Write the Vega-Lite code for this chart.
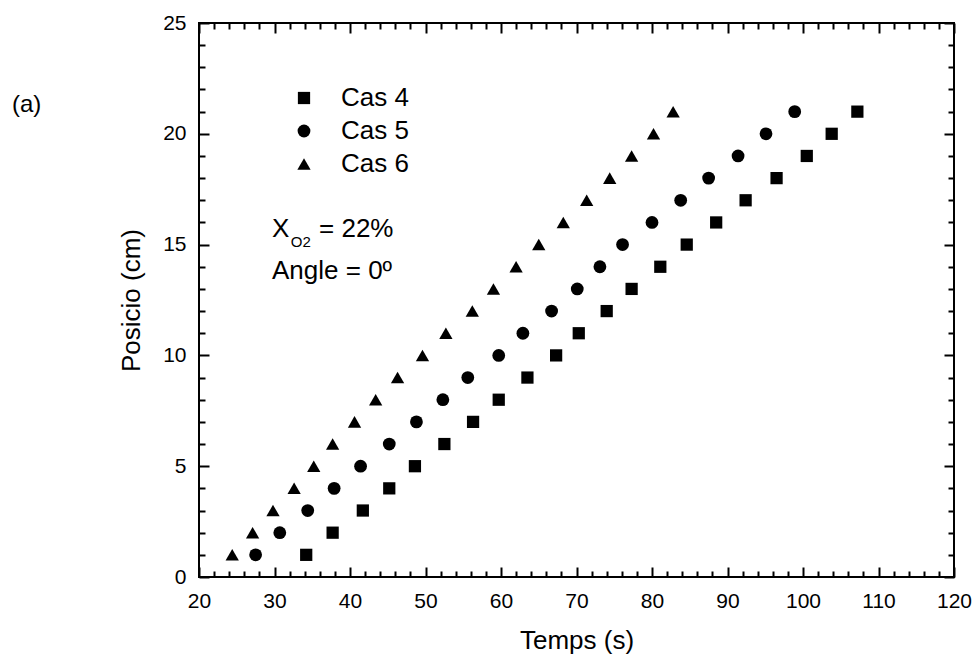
{
  "$schema": "https://vega.github.io/schema/vega-lite/v6.json",
  "autosize": "none",
  "width": 755,
  "height": 554,
  "padding": {"left": 199, "top": 23, "right": 19, "bottom": 80},
  "background": "white",
  "config": {
    "view": {"stroke": "black", "strokeWidth": 2},
    "font": "Liberation Sans"
  },
  "title": {"text": "(a)", "anchor": "start", "frame": "group", "orient": "top", "fontSize": 24, "fontWeight": "normal", "font": "Liberation Sans", "color": "black", "baseline": "alphabetic", "offset": 0, "dx": -187, "dy": 124},
  "datasets": {
    "pts": [
      {"caso": "Cas 4", "t": 34.2, "pos": 1}, {"caso": "Cas 4", "t": 37.7, "pos": 2}, {"caso": "Cas 4", "t": 41.7, "pos": 3}, {"caso": "Cas 4", "t": 45.2, "pos": 4}, {"caso": "Cas 4", "t": 48.6, "pos": 5}, {"caso": "Cas 4", "t": 52.5, "pos": 6}, {"caso": "Cas 4", "t": 56.3, "pos": 7}, {"caso": "Cas 4", "t": 59.7, "pos": 8}, {"caso": "Cas 4", "t": 63.5, "pos": 9}, {"caso": "Cas 4", "t": 67.3, "pos": 10}, {"caso": "Cas 4", "t": 70.3, "pos": 11}, {"caso": "Cas 4", "t": 74.0, "pos": 12}, {"caso": "Cas 4", "t": 77.3, "pos": 13}, {"caso": "Cas 4", "t": 81.1, "pos": 14}, {"caso": "Cas 4", "t": 84.6, "pos": 15}, {"caso": "Cas 4", "t": 88.5, "pos": 16}, {"caso": "Cas 4", "t": 92.4, "pos": 17}, {"caso": "Cas 4", "t": 96.5, "pos": 18}, {"caso": "Cas 4", "t": 100.5, "pos": 19}, {"caso": "Cas 4", "t": 103.8, "pos": 20}, {"caso": "Cas 4", "t": 107.2, "pos": 21},
      {"caso": "Cas 5", "t": 27.5, "pos": 1}, {"caso": "Cas 5", "t": 30.7, "pos": 2}, {"caso": "Cas 5", "t": 34.4, "pos": 3}, {"caso": "Cas 5", "t": 37.9, "pos": 4}, {"caso": "Cas 5", "t": 41.4, "pos": 5}, {"caso": "Cas 5", "t": 45.2, "pos": 6}, {"caso": "Cas 5", "t": 48.8, "pos": 7}, {"caso": "Cas 5", "t": 52.3, "pos": 8}, {"caso": "Cas 5", "t": 55.6, "pos": 9}, {"caso": "Cas 5", "t": 59.7, "pos": 10}, {"caso": "Cas 5", "t": 62.9, "pos": 11}, {"caso": "Cas 5", "t": 66.7, "pos": 12}, {"caso": "Cas 5", "t": 70.1, "pos": 13}, {"caso": "Cas 5", "t": 73.1, "pos": 14}, {"caso": "Cas 5", "t": 76.1, "pos": 15}, {"caso": "Cas 5", "t": 80.0, "pos": 16}, {"caso": "Cas 5", "t": 83.8, "pos": 17}, {"caso": "Cas 5", "t": 87.5, "pos": 18}, {"caso": "Cas 5", "t": 91.4, "pos": 19}, {"caso": "Cas 5", "t": 95.1, "pos": 20}, {"caso": "Cas 5", "t": 98.9, "pos": 21},
      {"caso": "Cas 6", "t": 24.4, "pos": 1}, {"caso": "Cas 6", "t": 27.1, "pos": 2}, {"caso": "Cas 6", "t": 29.8, "pos": 3}, {"caso": "Cas 6", "t": 32.6, "pos": 4}, {"caso": "Cas 6", "t": 35.2, "pos": 5}, {"caso": "Cas 6", "t": 37.7, "pos": 6}, {"caso": "Cas 6", "t": 40.6, "pos": 7}, {"caso": "Cas 6", "t": 43.4, "pos": 8}, {"caso": "Cas 6", "t": 46.3, "pos": 9}, {"caso": "Cas 6", "t": 49.6, "pos": 10}, {"caso": "Cas 6", "t": 52.7, "pos": 11}, {"caso": "Cas 6", "t": 56.2, "pos": 12}, {"caso": "Cas 6", "t": 59.0, "pos": 13}, {"caso": "Cas 6", "t": 62.0, "pos": 14}, {"caso": "Cas 6", "t": 65.0, "pos": 15}, {"caso": "Cas 6", "t": 68.25, "pos": 16}, {"caso": "Cas 6", "t": 71.35, "pos": 17}, {"caso": "Cas 6", "t": 74.4, "pos": 18}, {"caso": "Cas 6", "t": 77.3, "pos": 19}, {"caso": "Cas 6", "t": 80.2, "pos": 20}, {"caso": "Cas 6", "t": 82.8, "pos": 21}
    ],
    "notes": [
      {"label": "X", "t": 29.67, "pos": 15.34},
      {"label": "= 22%", "t": 35.9, "pos": 15.34},
      {"label": "Angle = 0º", "t": 29.67, "pos": 13.45}
    ],
    "subs": [
      {"label": "O2", "t": 32.15, "pos": 14.89}
    ]
  },
  "resolve": {"axis": {"x": "independent", "y": "independent"}},
  "layer": [
    {
      "data": {"name": "pts"},
      "mark": {"type": "point", "filled": true, "opacity": 1, "color": "black"},
      "encoding": {
        "x": {"field": "t", "type": "quantitative", "scale": {"domain": [20, 120], "nice": false, "zero": false},
              "axis": {"orient": "bottom", "values": [20, 30, 40, 50, 60, 70, 80, 90, 100, 110, 120], "grid": false, "domain": false, "ticks": true, "tickColor": "black", "tickWidth": 2, "tickSize": 10, "offset": -10, "labelPadding": 13, "labelFont": "Liberation Sans", "labelFontSize": 21, "labelColor": "black", "labelFlush": false, "labelOverlap": false, "title": "Temps (s)", "titleFont": "Liberation Sans", "titleFontSize": 26, "titleFontWeight": "normal", "titleColor": "black", "titlePadding": 16}},
        "y": {"field": "pos", "type": "quantitative", "scale": {"domain": [0, 25], "nice": false, "zero": false},
              "axis": {"orient": "left", "values": [0, 5, 10, 15, 20, 25], "grid": false, "domain": false, "ticks": true, "tickColor": "black", "tickWidth": 2, "tickSize": 10, "offset": -10, "labelPadding": 13, "labelFont": "Liberation Sans", "labelFontSize": 21, "labelColor": "black", "labelFlush": false, "labelOverlap": false, "title": "Posicio (cm)", "titleFont": "Liberation Sans", "titleFontSize": 26, "titleFontWeight": "normal", "titleColor": "black", "titlePadding": 18}},
        "shape": {"field": "caso", "type": "nominal", "scale": {"domain": ["Cas 4", "Cas 5", "Cas 6"], "range": ["square", "circle", "triangle-up"]},
                  "legend": {"title": null, "orient": "none", "legendX": 92, "legendY": 62, "labelFont": "Liberation Sans", "labelFontSize": 26, "labelColor": "black", "labelOffset": 24, "symbolFillColor": "black", "symbolStrokeColor": "black", "symbolStrokeWidth": 0, "rowPadding": 7, "padding": 0}},
        "size": {"field": "caso", "type": "nominal", "scale": {"domain": ["Cas 4", "Cas 5", "Cas 6"], "range": [150, 177, 280]},
                  "legend": {"title": null, "orient": "none", "legendX": 92, "legendY": 62, "labelFont": "Liberation Sans", "labelFontSize": 26, "labelColor": "black", "labelOffset": 24, "symbolFillColor": "black", "symbolStrokeColor": "black", "symbolStrokeWidth": 0, "rowPadding": 7, "padding": 0}}
      }
    },
    {
      "data": {"name": "pts"},
      "mark": {"type": "point", "opacity": 0},
      "encoding": {
        "x": {"field": "t", "type": "quantitative", "axis": {"orient": "top", "values": [20, 30, 40, 50, 60, 70, 80, 90, 100, 110, 120], "grid": false, "domain": false, "ticks": true, "tickColor": "black", "tickWidth": 2, "tickSize": -10, "labels": false, "title": null}},
        "y": {"field": "pos", "type": "quantitative", "axis": {"orient": "right", "values": [0, 5, 10, 15, 20, 25], "grid": false, "domain": false, "ticks": true, "tickColor": "black", "tickWidth": 2, "tickSize": -10, "labels": false, "title": null}}
      }
    },
    {
      "data": {"name": "pts"},
      "mark": {"type": "point", "opacity": 0},
      "encoding": {
        "x": {"field": "t", "type": "quantitative", "axis": {"orient": "bottom", "values": [22, 24, 26, 28, 32, 34, 36, 38, 42, 44, 46, 48, 52, 54, 56, 58, 62, 64, 66, 68, 72, 74, 76, 78, 82, 84, 86, 88, 92, 94, 96, 98, 102, 104, 106, 108, 112, 114, 116, 118], "grid": false, "domain": false, "ticks": true, "tickColor": "black", "tickWidth": 2, "tickSize": -6, "labels": false, "title": null}},
        "y": {"field": "pos", "type": "quantitative", "axis": {"orient": "left", "values": [1, 2, 3, 4, 6, 7, 8, 9, 11, 12, 13, 14, 16, 17, 18, 19, 21, 22, 23, 24], "grid": false, "domain": false, "ticks": true, "tickColor": "black", "tickWidth": 2, "tickSize": -6, "labels": false, "title": null}}
      }
    },
    {
      "data": {"name": "pts"},
      "mark": {"type": "point", "opacity": 0},
      "encoding": {
        "x": {"field": "t", "type": "quantitative", "axis": {"orient": "top", "values": [22, 24, 26, 28, 32, 34, 36, 38, 42, 44, 46, 48, 52, 54, 56, 58, 62, 64, 66, 68, 72, 74, 76, 78, 82, 84, 86, 88, 92, 94, 96, 98, 102, 104, 106, 108, 112, 114, 116, 118], "grid": false, "domain": false, "ticks": true, "tickColor": "black", "tickWidth": 2, "tickSize": -6, "labels": false, "title": null}},
        "y": {"field": "pos", "type": "quantitative", "axis": {"orient": "right", "values": [1, 2, 3, 4, 6, 7, 8, 9, 11, 12, 13, 14, 16, 17, 18, 19, 21, 22, 23, 24], "grid": false, "domain": false, "ticks": true, "tickColor": "black", "tickWidth": 2, "tickSize": -6, "labels": false, "title": null}}
      }
    },
    {
      "data": {"name": "notes"},
      "mark": {"type": "text", "align": "left", "baseline": "alphabetic", "fontSize": 26, "font": "Liberation Sans", "color": "black"},
      "encoding": {
        "x": {"field": "t", "type": "quantitative", "axis": null},
        "y": {"field": "pos", "type": "quantitative", "axis": null},
        "text": {"field": "label"}
      }
    },
    {
      "data": {"name": "subs"},
      "mark": {"type": "text", "align": "left", "baseline": "alphabetic", "fontSize": 15, "font": "Liberation Sans", "color": "black"},
      "encoding": {
        "x": {"field": "t", "type": "quantitative", "axis": null},
        "y": {"field": "pos", "type": "quantitative", "axis": null},
        "text": {"field": "label"}
      }
    }
  ]
}
